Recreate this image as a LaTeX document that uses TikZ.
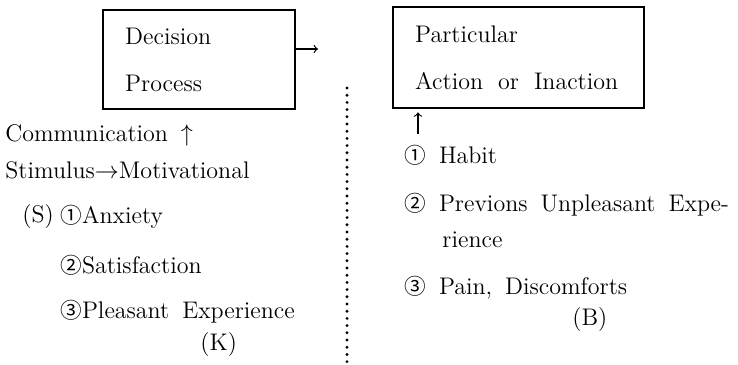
\documentclass[tikz,border=0pt]{standalone}
\usepackage{fontspec}
\usepackage{tikz}
\usetikzlibrary{arrows,positioning}
\newfontfamily\circfont[Scale=0.9]{Noto Sans CJK JP}
\newcommand{\bodyfont}{\fontsize{12}{14.5}\selectfont\spaceskip=6.5pt\relax}

\begin{document}
\begin{tikzpicture}[x=0.5pt, y=-0.5pt,
    procbox/.style={draw, line width=1.2pt, align=left, anchor=north west,
        inner xsep=11pt, font=\bodyfont},
    txt/.style={anchor=west, inner sep=0pt, font=\bodyfont},
    dotline/.style={line width=1.6pt, line cap=round, dash pattern=on 0pt off 3.6pt},
    arr/.style={->, >=to, line width=0.6pt}]
    \useasboundingbox (0,0) rectangle (738,364);

    % Boxes
    \node[procbox, minimum width=96pt, minimum height=49.5pt, text width=74pt]
        (dp) at (102,9) {Decision\\[9pt]Process};
    \node[procbox, minimum width=125.5pt, minimum height=50.5pt, text width=103.5pt]
        (pa) at (392,6) {\spaceskip=7.5pt\relax Particular\\[9pt]Action or Inaction};

    % Arrows and divider
    \coordinate (outtip) at (318,49);
    \coordinate (habitfoot) at (418,134);
    \coordinate (divtop) at (347,88);
    \coordinate (divbot) at (347,366);
    \draw[arr] (dp.east |- outtip) -- (outtip);
    \draw[arr, shorten >=1.5pt] (habitfoot) -- (pa.south -| habitfoot);
    \draw[dotline] (divtop) -- (divbot);

    % Left column
    \node[txt] (comm) at (5,135) {Communication $\uparrow$};
    \node[txt] (stim) at (5,170) {Stimulus$\rightarrow$Motivational};
    \node[txt] (slabel) at (22,217) {(S)};
    \node[txt] (anx) at (60,217) {{\circfont ①}Anxiety};
    \node[txt] (sat) at (60,265) {{\circfont ②}Satisfaction};
    \node[txt] (pleas) at (60,312) {{\circfont ③}Pleasant Experience};
    \node[txt] (klabel) at (200,345) {(K)};

    % Right column
    \node[txt] (habit) at (404,155) {{\circfont ①} Habit};
    \node[txt] (prev) at (404,205) {{\circfont ②} Previons Unpleasant Expe-};
    \node[txt] (rience) at (442,240) {rience};
    \node[txt] (pain) at (404,288) {{\circfont ③} Pain, Discomforts};
    \node[txt] (blabel) at (572,320) {(B)};
\end{tikzpicture}
\end{document}
